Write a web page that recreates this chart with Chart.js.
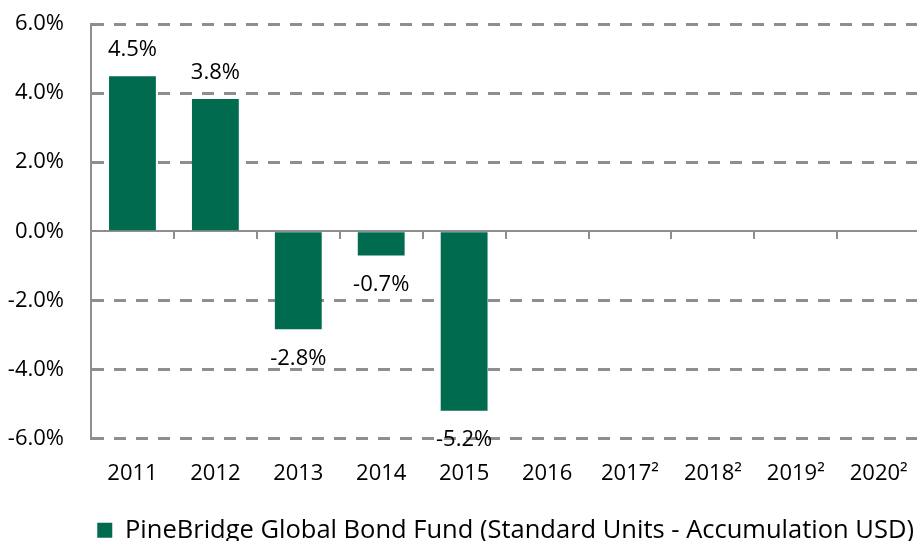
<!DOCTYPE html>
<html>
<head>
<meta charset="utf-8">
<script src="https://cdn.jsdelivr.net/npm/chart.js@4.4.0/dist/chart.umd.min.js"></script>
<style>
  html, body { margin: 0; padding: 0; background: #fff; width: 917px; height: 541px; overflow: hidden; }
  #wrap { position: relative; width: 930px; height: 553px; }
</style>
</head>
<body>
<div id="wrap"><canvas id="returnsChart"></canvas></div>
<script>
const years = ["2011", "2012", "2013", "2014", "2015", "2016", "2017²", "2018²", "2019²", "2020²"];
const returns = [4.49, 3.83, -2.84, -0.7, -5.2, null, null, null, null, null];
const seriesName = "PineBridge Global Bond Fund (Standard Units - Accumulation USD)";

const BAR_COLOR = "#006B4F";
const GRID_COLOR = "#8E8E8E";
const FONT = "'Open Sans', sans-serif";

// value labels above / below each bar
const barLabels = {
  id: "barLabels",
  afterDatasetsDraw(chart) {
    const ctx = chart.ctx;
    const meta = chart.getDatasetMeta(0);
    ctx.save();
    ctx.font = "22px " + FONT;
    ctx.fillStyle = "#000";
    ctx.textAlign = "center";
    ctx.textBaseline = "middle";
    meta.data.forEach((bar, i) => {
      const v = returns[i];
      if (v === null) return;
      const y = v >= 0 ? bar.y - 26 : bar.y + 29;
      ctx.fillText(v.toFixed(1) + "%", bar.x, y);
    });
    ctx.restore();
  }
};

new Chart(document.getElementById("returnsChart"), {
  type: "bar",
  data: {
    labels: years,
    datasets: [{
      label: seriesName,
      data: returns,
      backgroundColor: BAR_COLOR,
      borderWidth: 0,
      categoryPercentage: 1,
      barPercentage: 0.565
    }]
  },
  options: {
    responsive: true,
    maintainAspectRatio: false,
    animation: false,
    layout: { padding: { top: 24, right: 6, left: 0, bottom: 0 } },
    plugins: {
      tooltip: { enabled: false },
      legend: {
        position: "bottom",
        fullSize: false,
        labels: {
          color: "#000",
          boxWidth: 15,
          boxHeight: 15,
          padding: 10,
          font: { family: FONT, size: 25.5 }
        }
      }
    },
    scales: {
      y: {
        min: -6,
        max: 6,
        afterFit: scale => {
          scale.width = 91;
          scale.paddingTop = 0;
          scale.paddingBottom = 0;
        },
        ticks: {
          stepSize: 2,
          padding: 27,
          color: "#000",
          font: { family: FONT, size: 22 },
          callback: v => v.toFixed(1) + "%"
        },
        grid: {
          color: GRID_COLOR,
          lineWidth: ctx => (ctx.tick && ctx.tick.value === 0 ? 2 : 3),
          drawTicks: false
        },
        border: {
          display: true,
          color: GRID_COLOR,
          width: 2,
          dash: ctx => (ctx.tick && ctx.tick.value === 0 ? [] : [12, 10])
        }
      },
      x: {
        afterFit: scale => { scale.height = 69; },
        grid: { display: false, drawTicks: false },
        border: { display: false },
        ticks: {
          padding: 22,
          maxRotation: 0,
          autoSkip: false,
          color: "#000",
          font: { family: FONT, size: 22 }
        }
      },
      // tick marks along the zero line
      x2: {
        type: "category",
        labels: years,
        position: { y: 0 },
        afterFit: scale => { scale.height = 0; },
        grid: {
          drawOnChartArea: false,
          drawTicks: true,
          tickLength: 8,
          color: GRID_COLOR,
          lineWidth: 2,
          offset: true
        },
        border: { display: false },
        ticks: { display: false }
      }
    }
  },
  plugins: [barLabels]
});
</script>
</body>
</html>
